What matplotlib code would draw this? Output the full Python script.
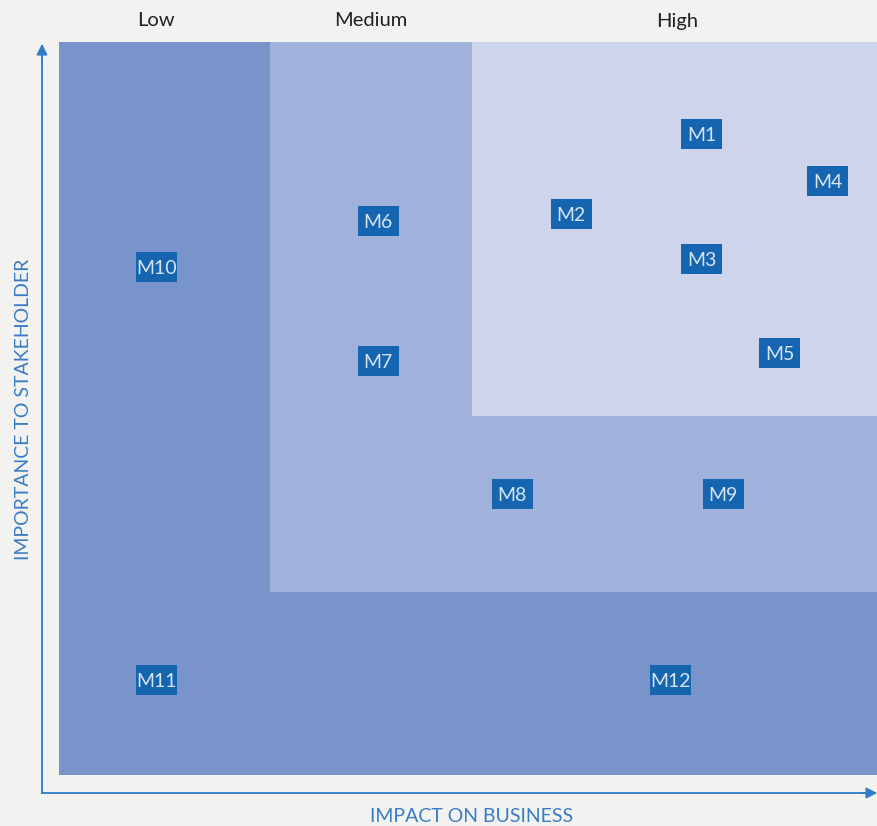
import matplotlib.pyplot as plt
from matplotlib.patches import Rectangle

# zones (impact x, importance y, in % of the plot area)
zone_names = ['Low', 'Medium', 'High']
zone_x0 = [0, 25.8, 50.5]
zone_y0 = [0, 25.0, 49.0]
zone_colors = ['#7993cb', '#a0b1db', '#cdd4ec']
zone_label_x = [11.9, 38.1, 75.6]

# items
names = ['M1', 'M2', 'M3', 'M4', 'M5', 'M6', 'M7', 'M8', 'M9', 'M10', 'M11', 'M12']
impact = [78.6, 62.6, 78.6, 94.0, 88.1, 39.0, 39.0, 55.4, 81.2, 11.9, 11.9, 74.8]
importance = [87.4, 76.5, 70.4, 81.0, 57.6, 75.6, 56.5, 38.3, 38.3, 69.3, 13.0, 13.0]

W, H = 877, 826
bg = '#f2f2f1'
fig = plt.figure(figsize=(W / 100, H / 100), dpi=100, facecolor=bg)

left, right, top, bottom = 59, 877, 42, 775
ax = fig.add_axes([left / W, (H - bottom) / H, (right - left) / W, (bottom - top) / H])
ax.set_xlim(0, 100)
ax.set_ylim(0, 100)
ax.axis('off')

for x0, y0, c in zip(zone_x0, zone_y0, zone_colors):
    ax.add_patch(Rectangle((x0, y0), 100 - x0, 100 - y0, color=c, lw=0, zorder=1))

for lbl, zx in zip(zone_names, zone_label_x):
    ax.text(zx, 100 + 21 / 7.33, lbl, ha='center', va='center', fontsize=14.5,
            color='#222222', family='Lato', clip_on=False)

bw, bh = 41 / 8.18, 30 / 7.33
for n, x, y in zip(names, impact, importance):
    ax.add_patch(Rectangle((x - bw / 2, y - bh / 2), bw, bh, color='#1565b0', lw=0, zorder=3))
    ax.text(x, y - 0.2, n, ha='center', va='center', fontsize=14, color='#d8e4f4',
            family='Lato', zorder=4)

# axis arrows (figure pixels, origin bottom left)
acol = '#2f7bc6'
fig.add_artist(plt.Line2D([42 / W, 42 / W], [(H - 793) / H, (H - 50) / H], color=acol, lw=1.3))
fig.add_artist(plt.Line2D([42 / W, 868 / W], [(H - 793) / H, (H - 793) / H], color=acol, lw=1.3))
ax.annotate('', xy=(42, H - 41), xycoords='figure pixels', xytext=(42, H - 60),
            textcoords='figure pixels',
            arrowprops=dict(arrowstyle='-|>', color=acol, lw=1.3, mutation_scale=16))
ax.annotate('', xy=(880, H - 793), xycoords='figure pixels', xytext=(860, H - 793),
            textcoords='figure pixels',
            arrowprops=dict(arrowstyle='-|>', color=acol, lw=1.3, mutation_scale=16))

fig.text(472 / W, (H - 816) / H, 'IMPACT ON BUSINESS', ha='center', va='center',
         fontsize=14, color='#3a7dc4', family='Lato')
fig.text(24 / W, (H - 409) / H, 'IMPORTANCE TO STAKEHOLDER', ha='center', va='center',
         rotation=90, fontsize=14, color='#3a7dc4', family='Lato')

fig.savefig('out.png', dpi=100, facecolor=bg)
